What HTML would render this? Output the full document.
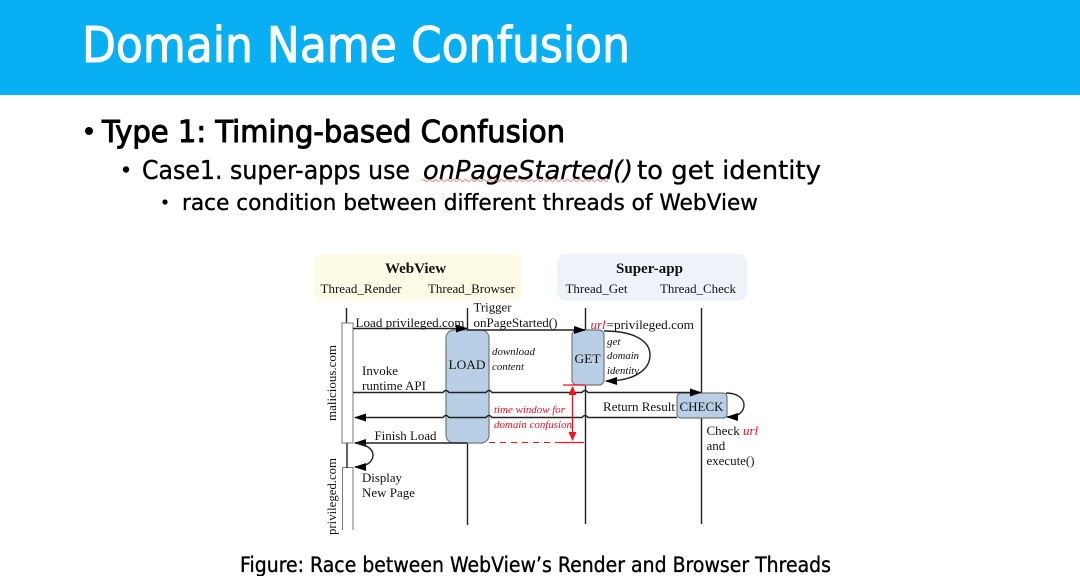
<!DOCTYPE html>
<html><head><meta charset="utf-8"><style>
html,body{margin:0;padding:0;background:#fff;width:1080px;height:576px;overflow:hidden}
svg{display:block}
.c{font-family:"DejaVu Sans",sans-serif;fill:#000;stroke:#000;stroke-width:.35px;stroke-linejoin:round}
.t{font-family:"Liberation Serif",serif;font-size:13px;fill:#111}
.i{font-family:"Liberation Serif",serif;font-size:11px;font-style:italic;fill:#111}
.r{font-family:"Liberation Serif",serif;font-size:11px;font-style:italic;fill:#f01020}
.l{stroke:#222;stroke-width:1.4;fill:none}
.b{fill:#b8cfe5;stroke:#777;stroke-width:1.2}
</style></head><body>
<svg width="1080" height="576" viewBox="0 0 1080 576" xmlns="http://www.w3.org/2000/svg">
<defs>
<marker id="a" markerWidth="12" markerHeight="8" refX="11" refY="4" orient="auto" markerUnits="userSpaceOnUse"><path d="M0 0L12 4L0 8Z" fill="#000"/></marker>
</defs>
<rect width="1080" height="95" fill="#08aff2"/>
<text x="82" y="62" font-family="DejaVu Sans,sans-serif" font-size="49" fill="#fff" stroke="#fff" stroke-width="1" stroke-linejoin="round" textLength="548" lengthAdjust="spacingAndGlyphs">Domain Name Confusion</text>

<circle cx="89" cy="131" r="4" fill="#000"/>
<text class="c" x="102" y="142" font-size="30" style="stroke-width:1px" textLength="463" lengthAdjust="spacingAndGlyphs">Type 1: Timing-based Confusion</text>
<circle cx="126" cy="169.500" r="3.200" fill="#000"/>
<text class="c" x="142" y="179" font-size="26" textLength="268" lengthAdjust="spacingAndGlyphs">Case1. super-apps use</text>
<text class="c" x="423" y="179" font-size="26" font-style="italic" textLength="210" lengthAdjust="spacingAndGlyphs">onPageStarted()</text>
<text class="c" x="637" y="179" font-size="26" textLength="184" lengthAdjust="spacingAndGlyphs">to get identity</text>
<path d="M422 180.500q1.500-2 3 0t3 0t3 0t3 0t3 0t3 0t3 0t3 0t3 0t3 0t3 0t3 0t3 0t3 0t3 0t3 0t3 0t3 0t3 0t3 0t3 0t3 0t3 0t3 0t3 0t3 0t3 0t3 0t3 0t3 0t3 0t3 0t3 0t3 0t3 0t3 0t3 0t3 0t3 0t3 0t3 0t3 0t3 0t3 0t3 0t3 0t3 0t3 0t3 0t3 0t3 0t3 0t3 0t3 0t3 0t3 0t3 0t3 0t3 0t3 0t3 0t3 0" fill="none" stroke="#e0706e" stroke-width="0.800"/>
<circle cx="165" cy="202" r="2.600" fill="#000"/>
<text class="c" x="182" y="210" font-size="22" textLength="576" lengthAdjust="spacingAndGlyphs">race condition between different threads of WebView</text>

<rect x="314" y="254" width="208" height="46.500" rx="8" fill="#fdfbe6"/>
<rect x="557" y="254" width="190" height="46.500" rx="8" fill="#eef3fa"/>
<text x="415.500" y="273" text-anchor="middle" font-family="Liberation Serif,serif" font-weight="bold" font-size="15" fill="#111">WebView</text>
<text x="649.500" y="273" text-anchor="middle" font-family="Liberation Serif,serif" font-weight="bold" font-size="15" fill="#111">Super-app</text>
<text class="t" x="320.500" y="293" textLength="81" lengthAdjust="spacingAndGlyphs">Thread_Render</text>
<text class="t" x="428" y="293" textLength="87" lengthAdjust="spacingAndGlyphs">Thread_Browser</text>
<text class="t" x="565.500" y="293" textLength="62" lengthAdjust="spacingAndGlyphs">Thread_Get</text>
<text class="t" x="660" y="293" textLength="76" lengthAdjust="spacingAndGlyphs">Thread_Check</text>

<path class="l" d="M346.500 308V323M467.500 308V330M467.500 443V525M585.500 308V330M585.500 385V524M701.500 308V393M701.500 418V524"/>

<rect x="342" y="323" width="11" height="120" fill="#fff" stroke="#777" stroke-width="1"/>
<path d="M342.500 530V467.500H353V530" fill="none" stroke="#777" stroke-width="1"/>
<path class="l" d="M347 443V467.500"/>

<rect class="b" x="446" y="330" width="43" height="113" rx="8"/>
<rect class="b" x="572" y="330" width="32" height="55" rx="5"/>
<rect class="b" x="677" y="393" width="50" height="25" rx="4"/>

<path class="l" d="M353 328.500H467" marker-end="url(#a)"/>
<path class="l" d="M467 330H585" marker-end="url(#a)"/>
<path class="l" d="M353 392.500H443q3-4 6 0H486q3-4 6 0H582q3-4 6 0H701" marker-end="url(#a)"/>
<path class="l" d="M677 417.500H588q-3-4-6 0H492q-3-4-6 0H449q-3-4-6 0H355" marker-end="url(#a)"/>
<path class="l" d="M467 443H355" marker-end="url(#a)"/>
<path class="l" d="M604 331C636 331 650 342 650 355C650 370 634 381 606 381" marker-end="url(#a)"/>
<path class="l" d="M726 393C738 393 744 399 744 405C744 412 738 417 727 417" marker-end="url(#a)"/>
<path class="l" d="M355 443C366 444 373 449 373 455C373 462 366 467 355 467" marker-end="url(#a)"/>

<path d="M563 385H585" stroke="#f01020" stroke-width="1.200" fill="none"/>
<path d="M489 442.500H561" stroke="#f01020" stroke-width="1" stroke-dasharray="6 5" fill="none"/>
<path d="M561 442.500H584" stroke="#f01020" stroke-width="1.200" fill="none"/>
<path d="M572.500 392V435" stroke="#f01020" stroke-width="1.200" fill="none"/>
<polygon points="572.500,386 568.500,395 576.500,395" fill="#f01020"/>
<polygon points="572.500,441 568.500,432 576.500,432" fill="#f01020"/>

<text class="t" x="355.500" y="327" textLength="109" lengthAdjust="spacingAndGlyphs">Load privileged.com</text>
<text class="t" x="473.500" y="311.500" textLength="38" lengthAdjust="spacingAndGlyphs">Trigger</text>
<text class="t" x="473.500" y="327" textLength="84" lengthAdjust="spacingAndGlyphs">onPageStarted()</text>
<text class="r" x="590.500" y="329" style="font-size:13px">url</text>
<text class="t" x="606.500" y="329" textLength="87.500" lengthAdjust="spacingAndGlyphs">=privileged.com</text>
<text class="t" x="448.500" y="369" textLength="37" lengthAdjust="spacingAndGlyphs">LOAD</text>
<text class="t" x="574.500" y="363" textLength="26" lengthAdjust="spacingAndGlyphs">GET</text>
<text class="t" x="679.500" y="411" textLength="44" lengthAdjust="spacingAndGlyphs">CHECK</text>
<text class="i" x="492" y="355" textLength="43" lengthAdjust="spacingAndGlyphs">download</text>
<text class="i" x="492" y="370" textLength="32" lengthAdjust="spacingAndGlyphs">content</text>
<text class="i" x="607" y="345">get</text>
<text class="i" x="607" y="359" textLength="32" lengthAdjust="spacingAndGlyphs">domain</text>
<text class="i" x="607" y="374" textLength="32" lengthAdjust="spacingAndGlyphs">identity</text>
<text class="t" x="362" y="375" textLength="36" lengthAdjust="spacingAndGlyphs">Invoke</text>
<text class="t" x="362" y="390" textLength="64" lengthAdjust="spacingAndGlyphs">runtime API</text>
<text class="r" x="494" y="413" textLength="71" lengthAdjust="spacingAndGlyphs">time window for</text>
<text class="r" x="494" y="428" textLength="78" lengthAdjust="spacingAndGlyphs">domain confusion</text>
<text class="t" x="603" y="411" textLength="72" lengthAdjust="spacingAndGlyphs">Return Result</text>
<text class="t" x="374.500" y="440" textLength="62" lengthAdjust="spacingAndGlyphs">Finish Load</text>
<text class="t" x="706.500" y="435">Check <tspan style="fill:#f01020;font-style:italic">url</tspan></text>
<text class="t" x="706.500" y="450">and</text>
<text class="t" x="706.500" y="465" textLength="48" lengthAdjust="spacingAndGlyphs">execute()</text>
<text class="t" x="362" y="482" textLength="40" lengthAdjust="spacingAndGlyphs">Display</text>
<text class="t" x="362" y="497" textLength="53" lengthAdjust="spacingAndGlyphs">New Page</text>
<text class="t" transform="translate(336 421) rotate(-90)" textLength="76" lengthAdjust="spacingAndGlyphs">malicious.com</text>
<text class="t" transform="translate(336 535) rotate(-90)" textLength="77" lengthAdjust="spacingAndGlyphs">privileged.com</text>

<text class="c" x="240" y="572" font-size="21" textLength="591" lengthAdjust="spacingAndGlyphs">Figure: Race between WebView’s Render and Browser Threads</text>
</svg>
</body></html>
